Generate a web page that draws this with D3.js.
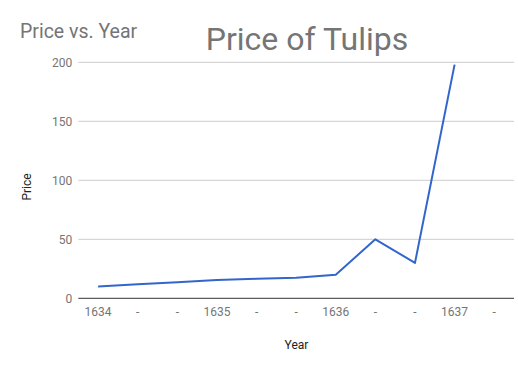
<!DOCTYPE html>
<html>
<head>
<meta charset="utf-8">
<script src="https://cdn.jsdelivr.net/npm/d3@7"></script>
<style>
  body { margin: 0; background: #fff; }
  text { font-family: Roboto, "Noto Sans", sans-serif; }
</style>
</head>
<body>
<div id="chart"></div>
<script>
// tick labels on the category axis, one per data point
const periods = ["1634", "-", "-", "1635", "-", "-", "1636", "-", "-", "1637", "-"]
const prices = [10, 12, 13.5, 15.5, 16.5, 17.5, 20, 50, 30, 198, null]
const yTicks = [0, 50, 100, 150, 200]

const width = 518, height = 371
const margin = { top: 62.3, right: 4, bottom: 72.7, left: 78.3 }

const svg = d3.select('#chart')
    .append('svg')
    .attr('width', width)
    .attr('height', height)

const x = d3.scaleBand()
    .domain(d3.range(periods.length))
    .range([margin.left, width - margin.right])

const y = d3.scaleLinear()
    .domain([0, 200])
    .range([height - margin.bottom, margin.top])

// gridlines
svg.append('g')
    .selectAll('line')
    .data(yTicks.filter(d => d !== 0))
    .enter().append('line')
    .attr('x1', margin.left)
    .attr('x2', width - margin.right)
    .attr('y1', d => y(d))
    .attr('y2', d => y(d))
    .attr('stroke', '#cccccc')
    .attr('stroke-width', 1)

// y tick labels
svg.append('g')
    .selectAll('text')
    .data(yTicks)
    .enter().append('text')
    .attr('x', margin.left - 6)
    .attr('y', d => y(d))
    .attr('dy', '0.35em')
    .attr('text-anchor', 'end')
    .attr('font-size', 12)
    .attr('fill', '#757575')
    .text(d => d)

// baseline
svg.append('line')
    .attr('x1', margin.left)
    .attr('x2', width - margin.right)
    .attr('y1', y(0))
    .attr('y2', y(0))
    .attr('stroke', '#333333')
    .attr('stroke-width', 1)

// x labels
svg.append('g')
    .selectAll('text')
    .data(periods)
    .enter().append('text')
    .attr('x', (d, i) => x(i) + x.bandwidth() / 2)
    .attr('y', y(0) + 17.5)
    .attr('text-anchor', 'middle')
    .attr('font-size', 12)
    .attr('fill', '#757575')
    .text(d => d)

// the line
const line = d3.line()
    .defined(d => d != null)
    .x((d, i) => x(i) + x.bandwidth() / 2)
    .y(d => y(d))

svg.append('path')
    .datum(prices)
    .attr('d', line)
    .attr('fill', 'none')
    .attr('stroke', '#3366cc')
    .attr('stroke-width', 2)
    .attr('stroke-linejoin', 'round')

// titles
svg.append('text')
    .attr('x', 20)
    .attr('y', 37.5)
    .attr('font-size', 19.5)
    .attr('fill', '#757575')
    .text('Price vs. Year')

svg.append('text')
    .attr('x', 307)
    .attr('y', 50)
    .attr('text-anchor', 'middle')
    .attr('font-size', 32)
    .attr('fill', '#757575')
    .text('Price of Tulips')

// axis titles
svg.append('text')
    .attr('x', 296.5)
    .attr('y', 349)
    .attr('text-anchor', 'middle')
    .attr('font-size', 12)
    .attr('fill', '#222222')
    .text('Year')

svg.append('text')
    .attr('transform', 'translate(31, 187) rotate(-90)')
    .attr('text-anchor', 'middle')
    .attr('font-size', 12)
    .attr('fill', '#222222')
    .text('Price')
</script>
</body>
</html>
